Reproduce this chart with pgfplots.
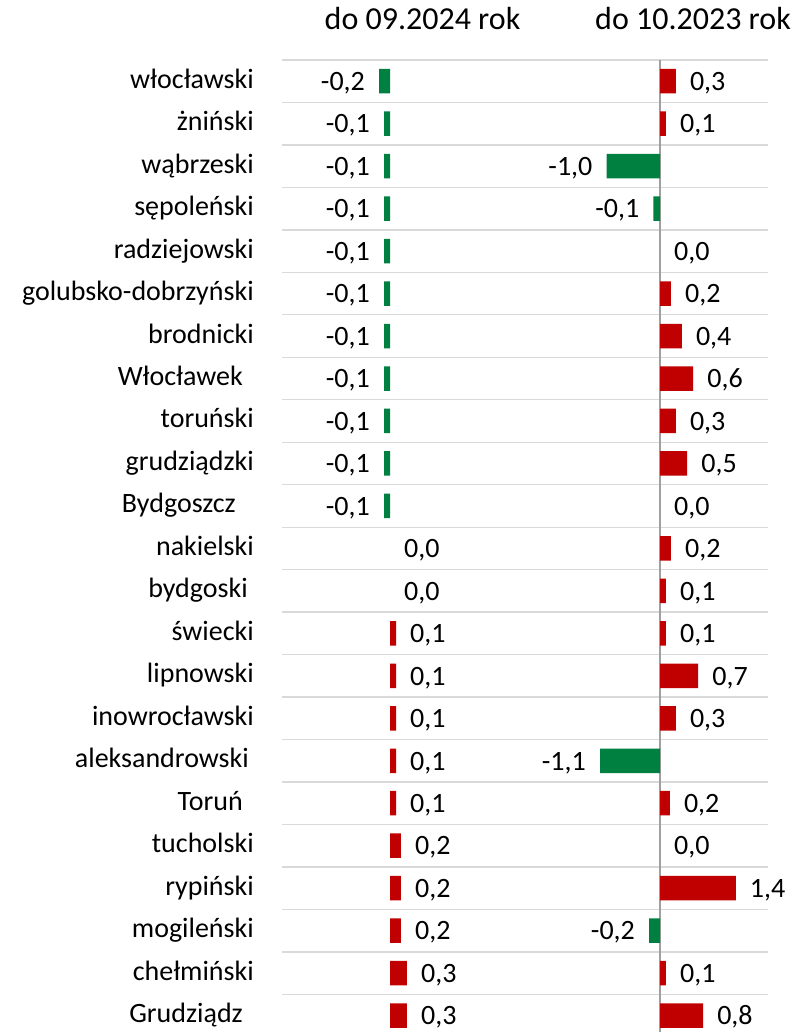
\documentclass[border=0pt]{standalone}
\usepackage{fontspec}
\setmainfont{Carlito}
\usepackage{pgfplots}
\pgfplotsset{compat=1.18}
\definecolor{barred}{RGB}{192,0,0}
\definecolor{bargreen}{RGB}{0,128,64}
\definecolor{gridgray}{RGB}{217,217,217}
\definecolor{axisgray}{RGB}{160,160,160}
\pgfplotsset{
 panel/.style={
  scale only axis, width=486pt, height=976.8pt,
  ymin=-0.5, ymax=22.5, y dir=reverse,
  xbar, bar width=24.5pt, bar shift=0pt,
  axis line style={draw=none},
  xtick=\empty,
  major tick length=0pt, minor tick length=0pt,
  clip=false,
  point meta=x,
  nodes near coords={\pgfmathprintnumber[fixed,fixed zerofill,precision=1,use comma,assume math mode=true]{\pgfplotspointmeta}},
  nodes near coords align=horizontal,
  every node near coord/.append style={font=\fontsize{28}{34}\selectfont, text=black, inner xsep=14pt, inner ysep=0pt, text height=18.5pt, text depth=0pt},
 },
}
\begin{document}
\begin{tikzpicture}
\path[use as bounding box] (0,0) rectangle (800pt,1032pt);
% right panel first (gridlines behind): do 10.2023
\begin{axis}[panel, at={(282pt,972pt)}, anchor=north west,
  xmin=-6.936, xmax=1.982,
  ytick={-0.5,0.5,...,22.5}, yticklabels={},
  ymajorgrids,
  major grid style={gridgray, line width=1.3pt},
  extra x ticks={0}, extra x tick labels={},
  extra x tick style={grid=major, major grid style={axisgray, line width=1.4pt}},
]
\addplot[fill=bargreen, draw=none] coordinates {
 (-0.98,2) (-0.12,3) (-1.10,16) (-0.20,20)};
\addplot[fill=barred, draw=none] coordinates {
 (0.29,0) (0.11,1) (0.20,5) (0.40,6) (0.61,7) (0.29,8) (0.50,9) (0.20,11) (0.11,12) (0.11,13) (0.70,14) (0.29,15) (0.18,17) (1.39,19) (0.11,21) (0.79,22)};
\addplot[fill=none, draw=none] coordinates {
 (0,4) (0,10) (0,18)};
\end{axis}
% left panel: do 09.2024
\begin{axis}[panel, at={(282pt,972pt)}, anchor=north west,
  xmin=-1.982, xmax=6.936,
  ytick={0,...,22},
  yticklabels={włocławski, żniński, wąbrzeski, sępoleński, radziejowski, golubsko-dobrzyński, brodnicki, {Włocławek\hspace*{11pt}}, toruński, grudziądzki, {Bydgoszcz\hspace*{18pt}}, nakielski, {bydgoski\hspace*{6pt}}, świecki, lipnowski, inowrocławski, {aleksandrowski\hspace*{5pt}}, {Toruń\hspace*{11pt}}, tucholski, rypiński, mogileński, chełmiński, {Grudziądz\hspace*{11pt}}},
  yticklabel style={font=\fontsize{28}{34}\selectfont, anchor=east, inner xsep=0pt, inner ysep=0pt, text height=20pt, text depth=6pt, xshift=-28pt},
]
\addplot[fill=bargreen, draw=none] coordinates {
 (-0.20,0) (-0.11,1) (-0.11,2) (-0.11,3) (-0.11,4) (-0.11,5) (-0.11,6) (-0.11,7) (-0.11,8) (-0.11,9) (-0.11,10)};
\addplot[fill=barred, draw=none] coordinates {
 (0.11,13) (0.11,14) (0.11,15) (0.11,16) (0.11,17) (0.20,18) (0.20,19) (0.20,20) (0.31,21) (0.31,22)};
\addplot[fill=none, draw=none] coordinates {
 (0,11) (0,12)};
\end{axis}
\node[font=\fontsize{32}{38}\selectfont, anchor=base] at (422.5pt,1002pt) {do 09.2024 rok};
\node[font=\fontsize{32}{38}\selectfont, anchor=base] at (693pt,1002pt) {do 10.2023 rok};
\end{tikzpicture}
\end{document}
